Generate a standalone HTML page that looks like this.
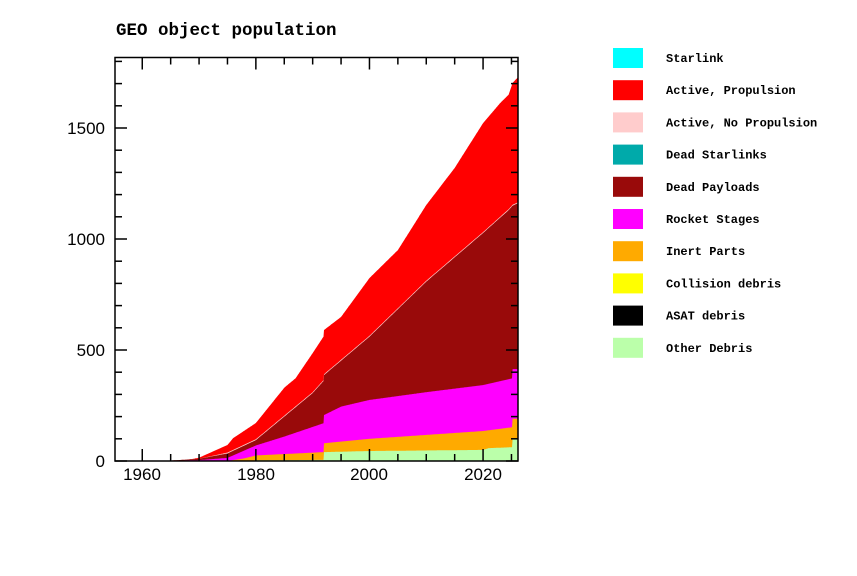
<!DOCTYPE html>
<html><head><meta charset="utf-8"><style>
html,body{margin:0;padding:0;background:#fff;width:857px;height:576px;overflow:hidden}
</style></head><body>
<svg id="s" width="857" height="576" xmlns="http://www.w3.org/2000/svg" style="position:absolute;left:0;top:0">
<text x="116" y="35" font-family="Liberation Mono, monospace" font-size="17.5" font-weight="bold">GEO object population</text>
<g id="areas"></g>
<g id="axes" stroke="#000" stroke-width="1.5" fill="none"></g>
<g font-family="Liberation Sans, sans-serif" font-size="17" text-anchor="end">
<text x="105" y="467">0</text>
<text x="105" y="356">500</text>
<text x="105" y="245">1000</text>
<text x="105" y="134">1500</text>
</g>
<g font-family="Liberation Sans, sans-serif" font-size="17" text-anchor="middle">
<text x="142" y="480">1960</text>
<text x="256" y="480">1980</text>
<text x="369" y="480">2000</text>
<text x="483" y="480">2020</text>
</g>
<g id="legend" font-family="Liberation Mono, monospace" font-size="12" font-weight="bold"></g>
</svg>
<script>
const X=y=>115+(y-1955.2)*5.68, Y=v=>461-v*0.222;
const green=[[1955.2,0],[1978,0],[1980,3],[1991.9,5],[1992,40],[2000,45],[2020,50],[2021,58],[2025.1,62],[2025.2,97],[2026.2,97]];
const orange=[[1955.2,0],[1975,0],[1978,12],[1980,25],[1991.9,40],[1992,80],[2000,100],[2020,135],[2025.1,152],[2025.2,190],[2026.2,190]];
const mag=[[1955.2,0],[1965,1],[1970,4],[1975,14],[1980,70],[1985,110],[1991.9,170],[1992,207],[1995,245],[2000,275],[2010,310],[2020,342],[2025.1,372],[2025.2,414],[2026.2,414]];
const dead=[[1955.2,0],[1965,2],[1970,10],[1975,34],[1980,94],[1985,200],[1990,306],[1991.9,360],[1992,387],[2000,560],[2010,808],[2020,1027],[2024.5,1130],[2025.2,1150],[2026.2,1162]];
const pink=dead.map(([a,b])=>[a,b+(a>1970?4:0)]);
const act=[[1955.2,0],[1965,2],[1968,5],[1970,15],[1975,72],[1976,103],[1980,171],[1985,330],[1987,373],[1990,486],[1991.9,560],[1992,590],[1995,649],[2000,824],[2005,950],[2010,1153],[2015,1320],[2020,1522],[2023,1612],[2024.5,1650],[2025.2,1703],[2026.2,1730]];
function interp(arr,x){for(let i=1;i<arr.length;i++){if(x<=arr[i][0]){const [a,b]=arr[i-1],[c,d]=arr[i];return b+(d-b)*(x-a)/(c-a||1);}}return arr[arr.length-1][1];}
const xs=[];for(let y=1955.2;y<=2026.2;y+=0.1)xs.push(+y.toFixed(2));
function poly(top,col){let p=xs.map(x=>X(x).toFixed(1)+','+Y(interp(top,x)).toFixed(1));p.push(X(2026.2)+','+Y(0));p.push(X(1955.2)+','+Y(0));return `<polygon points="${p.join(' ')}" fill="${col}"/>`;}
document.getElementById('areas').innerHTML=poly(act,'#ff0000')+poly(pink,'#ffcccc')+poly(dead,'#990a0a')+poly(mag,'#ff00ff')+poly(orange,'#ffaa00')+poly(green,'#bbffaa');
let ax=`<rect x="115" y="57.5" width="403" height="403.5"/>`;
for(let v=0;v<=1800;v+=100){const L=v%500==0?12:7;ax+=`<line x1="115" y1="${Y(v)}" x2="${115+L}" y2="${Y(v)}"/><line x1="518" y1="${Y(v)}" x2="${518-L}" y2="${Y(v)}"/>`;}
for(let yr=1960;yr<=2025;yr+=5){const L=yr%20==0?12:7;const x=X(yr);ax+=`<line x1="${x}" y1="461" x2="${x}" y2="${461-L}"/><line x1="${x}" y1="57.5" x2="${x}" y2="${57.5+L}"/>`;}
document.getElementById('axes').innerHTML=ax;
const leg=[['Starlink','#00ffff'],['Active, Propulsion','#ff0000'],['Active, No Propulsion','#ffcccc'],['Dead Starlinks','#00aaaa'],['Dead Payloads','#990a0a'],['Rocket Stages','#ff00ff'],['Inert Parts','#ffaa00'],['Collision debris','#ffff00'],['ASAT debris','#000000'],['Other Debris','#bbffaa']];
document.getElementById('legend').innerHTML=leg.map(([t,c],i)=>{const y=48+i*32.2;return `<rect x="613" y="${y}" width="30" height="20" fill="${c}"/><text x="666" y="${y+14}">${t}</text>`}).join('');
</script>
</body></html>
